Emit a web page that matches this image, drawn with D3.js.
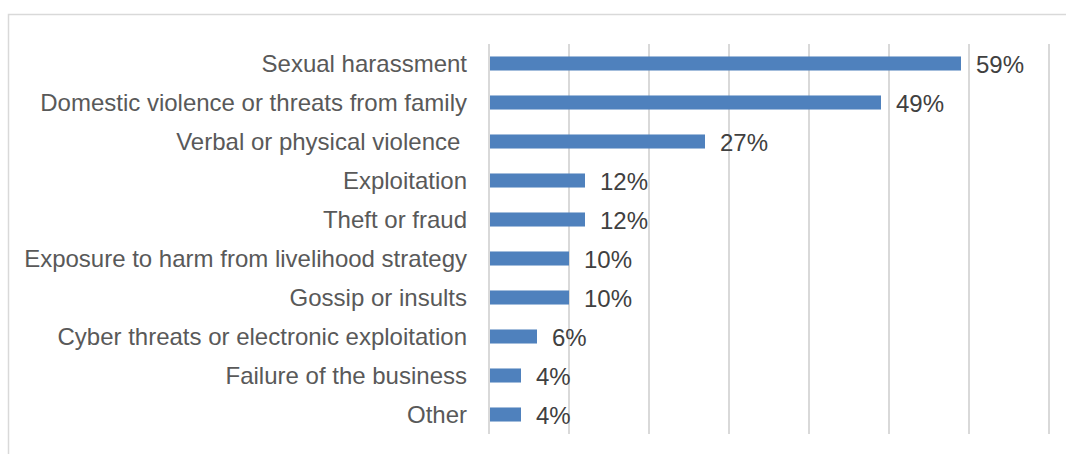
<!DOCTYPE html>
<html>
<head>
<meta charset="utf-8">
<script src="https://cdn.jsdelivr.net/npm/d3@7"></script>
<style>
  html, body { margin: 0; padding: 0; background: #fff; }
  svg { display: block; }
  text { font-family: "Liberation Sans", Arial, sans-serif; }
</style>
</head>
<body>
<svg id="chart" width="1066" height="454"></svg>
<script>
// Reported risks, share of respondents (%)
const categories = [
  "Sexual harassment",
  "Domestic violence or threats from family",
  "Verbal or physical violence ",
  "Exploitation",
  "Theft or fraud",
  "Exposure to harm from livelihood strategy",
  "Gossip or insults",
  "Cyber threats or electronic exploitation",
  "Failure of the business",
  "Other"
];
const values = [59, 49, 27, 12, 12, 10, 10, 6, 4, 4];
const tickValues = [0, 10, 20, 30, 40, 50, 60, 70];

const svg = d3.select("#chart");
const W = 1066, H = 454;

const x = d3.scaleLinear().domain([0, 70]).range([489, 1049]);
const y = d3.scaleBand().domain(categories).range([44, 434]).paddingInner(0.64).paddingOuter(0.32);

// Frame
svg.append("path")
  .attr("d", `M8.5,${H} V14.5 H${W}`)
  .attr("fill", "none")
  .attr("stroke", "#d9d9d9")
  .attr("stroke-width", 1.5);

// Vertical gridlines
svg.append("g")
  .selectAll("line")
  .data(tickValues)
  .join("line")
  .attr("x1", d => x(d)).attr("x2", d => x(d))
  .attr("y1", 44).attr("y2", 434)
  .attr("stroke", "#d9d9d9")
  .attr("stroke-width", 2);

// Bars
svg.append("g")
  .selectAll("rect")
  .data(values)
  .join("rect")
  .attr("x", x(0) + 1)
  .attr("y", (d, i) => y(categories[i]))
  .attr("width", d => x(d) - x(0) - 1)
  .attr("height", y.bandwidth())
  .attr("fill", "#4f81bd");

// Category labels
svg.append("g")
  .selectAll("text")
  .data(categories)
  .join("text")
  .attr("x", 467)
  .attr("y", d => y(d) + y.bandwidth() / 2)
  .attr("dy", "0.35em")
  .attr("text-anchor", "end")
  .attr("font-size", 24)
  .attr("fill", "#595959")
  .style("white-space", "pre")
  .text(d => d);

// Value labels
svg.append("g")
  .selectAll("text")
  .data(values)
  .join("text")
  .attr("x", d => x(d) + 15)
  .attr("y", (d, i) => y(categories[i]) + y.bandwidth() / 2 + 1.5)
  .attr("dy", "0.35em")
  .attr("font-size", 24)
  .attr("fill", "#404040")
  .text(d => d + "%");
</script>
</body>
</html>
